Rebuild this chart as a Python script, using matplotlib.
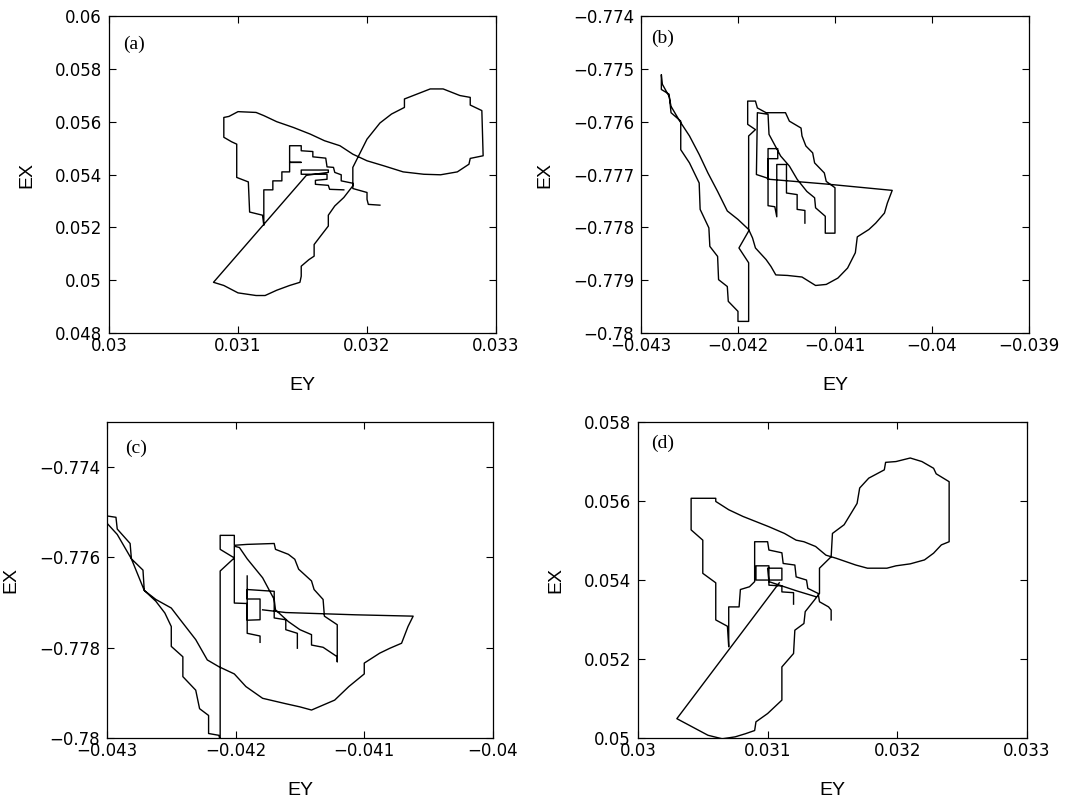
import numpy as np
import matplotlib
matplotlib.use("Agg")
import matplotlib.pyplot as plt

nan = np.nan

# ---- panel (a) trajectory (EY, EX)
ey_a = [0.03182, 0.03171, 0.03170, 0.03160, 0.03160, 0.03169, 0.03169, 0.03149, 0.03149, 0.03170, 0.03170, 0.03153,
        0.03081, 0.03089, 0.03100, 0.03114, 0.03121, 0.03130, 0.03140, 0.03148, 0.03149, 0.03149, 0.03155, 0.03159,
        0.03159, 0.03164, 0.03170, 0.03170, 0.03175, 0.03182, 0.03189, 0.03189, 0.03200, 0.03201, 0.03210, 0.03219,
        0.03229, 0.03229, 0.03239, 0.03249, 0.03259, 0.03272, 0.03280, 0.03280, 0.03289, 0.03290, 0.03280, 0.03279,
        0.03270, 0.03257, 0.03244, 0.03228, 0.03213, 0.03200, 0.03189, 0.03179, 0.03167, 0.03156, 0.03143, 0.03130,
        0.03120, 0.03114, 0.03100, 0.03093, 0.03089, 0.03089, 0.03095, 0.03099, 0.03099, 0.03108, 0.03109, 0.03119,
        0.03120, 0.03120, 0.03127, 0.03127, 0.03134, 0.03134, 0.03140, 0.03140, 0.03149, 0.03140, 0.03140, 0.03149,
        0.03149, 0.03158, 0.03158, 0.03168, 0.03169, 0.03174, 0.03175, 0.03180, 0.03180, 0.03189, 0.03189, 0.03200,
        0.03200, 0.03201, 0.03210]
ex_a = [0.05342, 0.05344, 0.05359, 0.05363, 0.05378, 0.05382, 0.05401, 0.05401, 0.05417, 0.05417, 0.05408, 0.05397,
        0.04992, 0.04980, 0.04952, 0.04942, 0.04942, 0.04962, 0.04980, 0.04992, 0.05015, 0.05053, 0.05078, 0.05091,
        0.05135, 0.05167, 0.05205, 0.05246, 0.05281, 0.05313, 0.05357, 0.05427, 0.05534, 0.05540, 0.05595, 0.05629,
        0.05654, 0.05686, 0.05705, 0.05724, 0.05724, 0.05699, 0.05692, 0.05663, 0.05642, 0.05471, 0.05461, 0.05439,
        0.05410, 0.05399, 0.05401, 0.05410, 0.05433, 0.05452, 0.05477, 0.05509, 0.05528, 0.05553, 0.05578, 0.05600,
        0.05623, 0.05635, 0.05638, 0.05620, 0.05616, 0.05541, 0.05524, 0.05515, 0.05389, 0.05372, 0.05258, 0.05246,
        0.05208, 0.05342, 0.05342, 0.05376, 0.05376, 0.05410, 0.05410, 0.05446, 0.05446, 0.05446, 0.05509, 0.05509,
        0.05490, 0.05487, 0.05467, 0.05462, 0.05429, 0.05427, 0.05408, 0.05399, 0.05376, 0.05367, 0.05347, 0.05332,
        0.05306, 0.05287, 0.05284]

# ---- panel (b)
ey_b = [-0.04168, -0.04109, -0.04041, -0.04046, -0.04049, -0.04058, -0.04065, -0.04077, -0.04079, -0.04087,
        -0.04097, -0.04109, -0.04120, -0.04134, -0.04149, -0.04161, -0.04166, -0.04171, -0.04182, -0.04185,
        -0.04189, -0.04200, -0.04211, -0.04221, -0.04231, -0.04240, -0.04250, -0.04260, -0.04269, -0.04271,
        -0.04278, -0.04279, -0.04279, -0.04271, -0.04269, -0.04259, -0.04259, -0.04250, -0.04240, -0.04239,
        -0.04230, -0.04229, -0.04221, -0.04220, -0.04211, -0.04210, -0.04200, -0.04200, -0.04189, -0.04189,
        -0.04199, -0.04189, -0.04189, -0.04182, -0.04190, -0.04190, -0.04182, -0.04180, -0.04171, -0.04151,
        -0.04147, -0.04135, -0.04134, -0.04130, -0.04123, -0.04121, -0.04111, -0.04109, -0.04100, -0.04100,
        -0.04110, -0.04110, -0.04120, -0.04121, -0.04129, -0.04139, -0.04147, -0.04156, -0.04168, -0.04169,
        -0.04180, -0.04181, -0.04171, -0.04168,
        -0.04169, -0.04169, -0.04159, -0.04159, -0.04169, -0.04169, -0.04162, -0.04160, -0.04160, -0.04150,
        -0.04150, -0.04139, -0.04139, -0.04131, -0.04131]
ex_b = [-0.77709, -0.77718, -0.77730, -0.77754, -0.77773, -0.77792, -0.77804, -0.77818, -0.77848, -0.77877,
        -0.77896, -0.77908, -0.77910, -0.77894, -0.77891, -0.77890, -0.77874, -0.77861, -0.77839, -0.77820,
        -0.77804, -0.77785, -0.77769, -0.77732, -0.77697, -0.77662, -0.77627, -0.77599, -0.77571, -0.77552,
        -0.77529, -0.77511, -0.77539, -0.77548, -0.77583, -0.77599, -0.77653, -0.77678, -0.77716, -0.77766,
        -0.77801, -0.77836, -0.77855, -0.77899, -0.77912, -0.77940, -0.77959, -0.77978, -0.77978, -0.77867,
        -0.77839, -0.77807, -0.77627, -0.77615, -0.77605, -0.77561, -0.77561, -0.77574, -0.77583, -0.77583,
        -0.77599, -0.77612, -0.77627, -0.77646, -0.77659, -0.77678, -0.77697, -0.77713, -0.77725, -0.77811,
        -0.77811, -0.77779, -0.77763, -0.77744, -0.77732, -0.77709, -0.77684, -0.77665, -0.77624, -0.77586,
        -0.77583, -0.77700, -0.77706, -0.77709,
        -0.77709, -0.77651, -0.77651, -0.77670, -0.77670, -0.77759, -0.77761, -0.77780, -0.77681, -0.77681,
        -0.77735, -0.77738, -0.77766, -0.77768, -0.77792]

# ---- panel (c)
ey_c = [-0.04179, -0.04161, -0.04107, -0.04062, -0.04066, -0.04071, -0.04080, -0.04088, -0.04100, -0.04100,
        -0.04112, -0.04123, -0.04141, -0.04150, -0.04161, -0.04179, -0.04192, -0.04201, -0.04213, -0.04222,
        -0.04231, -0.04243, -0.04250, -0.04262, -0.04271, -0.04281, -0.04292, -0.04300, -0.04306, -0.04300,
        -0.04293, -0.04292, -0.04282, -0.04281, -0.04272, -0.04271, -0.04262, -0.04255, -0.04250, -0.04250,
        -0.04241, -0.04241, -0.04231, -0.04228, -0.04221, -0.04221, -0.04213, -0.04212, -0.04212, -0.04201,
        -0.04212, -0.04212, -0.04201, -0.04201, -0.04191, -0.04170, -0.04169, -0.04159, -0.04154, -0.04151,
        -0.04141, -0.04139, -0.04132, -0.04131, -0.04121, -0.04121, -0.04121, -0.04132, -0.04141, -0.04141,
        -0.04150, -0.04159, -0.04169, -0.04170, -0.04179, -0.04191, -0.04197, -0.04201, -0.04201, -0.04191,
        -0.04191, -0.04181, -0.04181, nan,
        -0.04191, -0.04191, -0.04181, -0.04181, -0.04191, -0.04191, -0.04170, -0.04170, -0.04161, -0.04161,
        -0.04152, -0.04152]
ex_c = [-0.77716, -0.77722, -0.77727, -0.77730, -0.77753, -0.77790, -0.77801, -0.77812, -0.77834, -0.77858,
        -0.77886, -0.77916, -0.77938, -0.77931, -0.77924, -0.77912, -0.77886, -0.77858, -0.77842, -0.77827,
        -0.77782, -0.77738, -0.77712, -0.77693, -0.77673, -0.77603, -0.77549, -0.77524, -0.77515, -0.77508,
        -0.77511, -0.77537, -0.77569, -0.77603, -0.77628, -0.77673, -0.77697, -0.77723, -0.77753, -0.77797,
        -0.77820, -0.77864, -0.77894, -0.77935, -0.77950, -0.77990, -0.77994, -0.78005, -0.77630, -0.77601,
        -0.77582, -0.77551, -0.77551, -0.77573, -0.77571, -0.77569, -0.77582, -0.77593, -0.77604, -0.77626,
        -0.77652, -0.77671, -0.77693, -0.77730, -0.77749, -0.77831, -0.77820, -0.77799, -0.77794, -0.77771,
        -0.77760, -0.77742, -0.77716, -0.77693, -0.77645, -0.77603, -0.77578, -0.77575, -0.77701, -0.77702,
        -0.77768, -0.77774, -0.77788, nan,
        -0.77641, -0.77692, -0.77692, -0.77738, -0.77739, -0.77671, -0.77675, -0.77734, -0.77738, -0.77760,
        -0.77768, -0.77801]

# ---- panel (d)
ey_d = [0.03137, 0.03122, 0.03101, 0.03100, 0.03111, 0.03111, 0.03091, 0.03091, 0.03101, 0.03101, 0.03111,
        0.03111, 0.03120, 0.03120, nan,
        0.03109, 0.03030, 0.03042, 0.03054, 0.03065, 0.03075, 0.03083, 0.03090, 0.03091, 0.03100, 0.03111,
        0.03111, 0.03120, 0.03121, 0.03128, 0.03129, 0.03136, 0.03140, 0.03140, 0.03149, 0.03150, 0.03159,
        0.03169, 0.03171, 0.03178, 0.03190, 0.03191, 0.03199, 0.03210, 0.03219, 0.03228, 0.03230, 0.03240,
        0.03240, 0.03234, 0.03228, 0.03221, 0.03210, 0.03199, 0.03192, 0.03177, 0.03168, 0.03153, 0.03145,
        0.03137, 0.03128, 0.03122, 0.03113, 0.03101, 0.03091, 0.03081, 0.03070, 0.03060, 0.03060, 0.03041,
        0.03041, 0.03050, 0.03050, 0.03060, 0.03060, 0.03069, 0.03070, 0.03070, 0.03078, 0.03079, 0.03086,
        0.03090, 0.03090, 0.03100, 0.03101, 0.03111, 0.03112, 0.03121, 0.03122, 0.03130, 0.03131, 0.03139,
        0.03140, 0.03147, 0.03149, 0.03149]
ex_d = [0.05358, 0.05373, 0.05396, 0.05430, 0.05430, 0.05400, 0.05400, 0.05436, 0.05436, 0.05387, 0.05385,
        0.05370, 0.05368, 0.05339, nan,
        0.05393, 0.05049, 0.05028, 0.05007, 0.04998, 0.05003, 0.05011, 0.05019, 0.05041, 0.05062, 0.05096,
        0.05180, 0.05214, 0.05273, 0.05290, 0.05320, 0.05349, 0.05366, 0.05430, 0.05459, 0.05518, 0.05540,
        0.05594, 0.05633, 0.05658, 0.05679, 0.05698, 0.05700, 0.05709, 0.05700, 0.05683, 0.05669, 0.05649,
        0.05497, 0.05489, 0.05468, 0.05451, 0.05441, 0.05436, 0.05430, 0.05430, 0.05438, 0.05455, 0.05463,
        0.05485, 0.05497, 0.05501, 0.05518, 0.05535, 0.05548, 0.05561, 0.05578, 0.05599, 0.05607, 0.05607,
        0.05527, 0.05501, 0.05417, 0.05393, 0.05299, 0.05283, 0.05231, 0.05332, 0.05332, 0.05376, 0.05383,
        0.05396, 0.05497, 0.05497, 0.05476, 0.05469, 0.05442, 0.05438, 0.05408, 0.05400, 0.05379, 0.05366,
        0.05345, 0.05332, 0.05324, 0.05299]

M = '\u2212'
panels = [
    dict(ey=ey_a, ex=ex_a, tag='(a)', xlim=(0.030, 0.033), ylim=(0.048, 0.060),
         xt=[0.030, 0.031, 0.032, 0.033], xl=['0.03', '0.031', '0.032', '0.033'],
         yt=[0.048, 0.050, 0.052, 0.054, 0.056, 0.058, 0.060],
         yl=['0.048', '0.05', '0.052', '0.054', '0.056', '0.058', '0.06'],
         pos=[0.1013, 0.5863, 0.3597, 0.3938], tagpos=(0.036, 0.912)),
    dict(ey=ey_b, ex=ex_b, tag='(b)', xlim=(-0.043, -0.039), ylim=(-0.780, -0.774),
         xt=[-0.043, -0.042, -0.041, -0.040, -0.039],
         xl=[M + '0.043', M + '0.042', M + '0.041', M + '0.04', M + '0.039'],
         yt=[-0.780, -0.779, -0.778, -0.777, -0.776, -0.775, -0.774],
         yl=[M + '0.78', M + '0.779', M + '0.778', M + '0.777', M + '0.776', M + '0.775', M + '0.774'],
         pos=[0.5957, 0.5863, 0.3606, 0.3938], tagpos=(0.026, 0.930)),
    dict(ey=ey_c, ex=ex_c, tag='(c)', xlim=(-0.043, -0.040), ylim=(-0.780, -0.773),
         xt=[-0.043, -0.042, -0.041, -0.040],
         xl=[M + '0.043', M + '0.042', M + '0.041', M + '0.04'],
         yt=[-0.780, -0.778, -0.776, -0.774],
         yl=[M + '0.78', M + '0.778', M + '0.776', M + '0.774'],
         pos=[0.0994, 0.0832, 0.3587, 0.3925], tagpos=(0.047, 0.918)),
    dict(ey=ey_d, ex=ex_d, tag='(d)', xlim=(0.030, 0.033), ylim=(0.050, 0.058),
         xt=[0.030, 0.031, 0.032, 0.033], xl=['0.03', '0.031', '0.032', '0.033'],
         yt=[0.050, 0.052, 0.054, 0.056, 0.058],
         yl=['0.05', '0.052', '0.054', '0.056', '0.058'],
         pos=[0.5929, 0.0832, 0.3615, 0.3925], tagpos=(0.033, 0.932)),
]

fig = plt.figure(figsize=(10.76, 8.05), dpi=100)

for p in panels:
    ax = fig.add_axes(p['pos'])
    ax.plot(p['ey'], p['ex'], color='black', lw=1.0)
    ax.set_xlim(*p['xlim'])
    ax.set_ylim(*p['ylim'])
    ax.set_xticks(p['xt'])
    ax.set_xticklabels(p['xl'], fontsize=12, family='DejaVu Sans')
    ax.set_yticks(p['yt'])
    ax.set_yticklabels(p['yl'], fontsize=12, family='DejaVu Sans')
    ax.tick_params(direction='in', top=True, right=True, length=5, width=0.8)
    ax.tick_params(axis='x', pad=3)
    ax.tick_params(axis='y', pad=5)
    for s in ax.spines.values():
        s.set_linewidth(0.9)
    ax.set_xlabel('EY', fontsize=14, family='Liberation Sans', labelpad=16)
    ax.set_ylabel('EX', fontsize=14, family='Liberation Sans', labelpad=14)
    ax.text(p['tagpos'][0], p['tagpos'][1], p['tag'], transform=ax.transAxes,
            fontsize=14, family='Liberation Serif', ha='left', va='center')

fig.savefig('out.png', dpi=100)
